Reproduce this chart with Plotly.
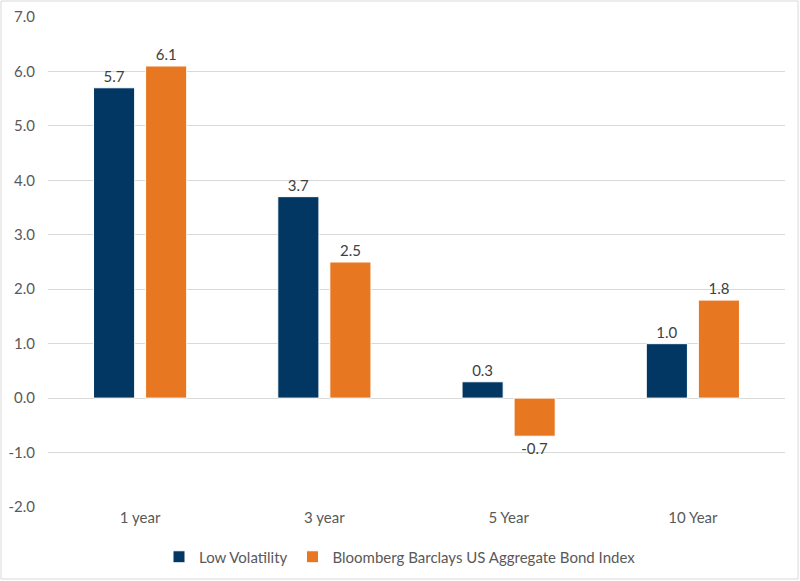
import plotly.graph_objects as go

categories = ['1 year', '3 year', '5 Year', '10 Year']
low_vol = [5.7, 3.7, 0.3, 1.0]
bond_index = [6.1, 2.5, -0.7, 1.8]
tick_vals = [-2, -1, 0, 1, 2, 3, 4, 5, 6, 7]
tick_text = ['-2.0', '-1.0', '0.0', '1.0', '2.0', '3.0', '4.0', '5.0', '6.0', '7.0']

FONT = 'Lato, Carlito, Calibri, sans-serif'

fig = go.Figure()
fig.add_trace(go.Bar(
    x=categories, y=low_vol, name='Low Volatility',
    marker=dict(color='#023764', line=dict(color='white', width=1)),
    text=[f'{v:.1f}' for v in low_vol], textposition='outside',
    textfont=dict(color='#404040', size=15, family=FONT), cliponaxis=False,
))
fig.add_trace(go.Bar(
    x=categories, y=bond_index, name='Bloomberg Barclays US Aggregate Bond Index',
    marker=dict(color='#E87722', line=dict(color='white', width=1)),
    text=[f'{v:.1f}' for v in bond_index], textposition='outside',
    textfont=dict(color='#404040', size=15, family=FONT), cliponaxis=False,
))

L, R, T, B = 48, 15, 17, 74
W, H = 800, 581
pw, ph = W - L - R, H - T - B

fig.update_layout(
    width=W, height=H,
    margin=dict(l=L, r=R, t=T, b=B, autoexpand=False),
    paper_bgcolor='white', plot_bgcolor='white',
    font=dict(family=FONT, size=15, color='#595959'),
    barmode='group', bargap=0.435, bargroupgap=0.21,
    showlegend=True,
    legend=dict(orientation='h', x=0.5, xanchor='center', xref='container',
                y=1 - 557 / H, yanchor='middle', yref='container',
                font=dict(size=15, color='#595959'), itemwidth=30),
)
fig.update_xaxes(showgrid=False, showline=False, ticks='', tickfont=dict(size=15),
                 automargin=False)
fig.update_yaxes(range=[-2, 7], tickvals=tick_vals, ticktext=tick_text,
                 showgrid=True, gridcolor='#D9D9D9', gridwidth=1,
                 zeroline=True, zerolinecolor='#D9D9D9', zerolinewidth=1,
                 showline=False, ticks='', tickfont=dict(size=15), ticklabelstandoff=12,
                 automargin=False)

# outer chart border
fig.add_shape(type='rect', xref='paper', yref='paper',
              x0=(1 - L) / pw, x1=(W - 2 - L) / pw,
              y0=(T + ph - (H - 2)) / ph, y1=(T + ph - 1) / ph,
              line=dict(color='#D9D9D9', width=1), layer='below')

# drop the default page margin so the figure sits at the window's corner
fig.write_html('out.html', config={'displayModeBar': False},
               post_script="document.body.style.margin='0';")
